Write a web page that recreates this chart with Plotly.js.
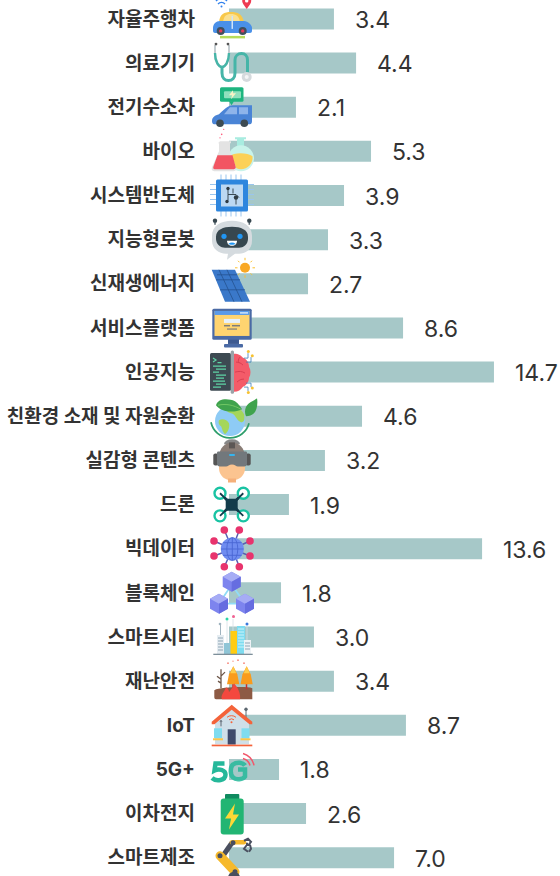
<!DOCTYPE html>
<html>
<head>
<meta charset="utf-8">
<script src="https://cdn.plot.ly/plotly-3.0.1.min.js"></script>
<style>html,body{margin:0;padding:0;background:#fff;overflow:hidden}#chart{width:560px;height:876px}</style>
</head>
<body>
<div id="chart"></div>
<script>
const categories = ["자율주행차","의료기기","전기수소차","바이오","시스템반도체","지능형로봇","신재생에너지","서비스플랫폼","인공지능","친환경 소재 및 자원순환","실감형 콘텐츠","드론","빅데이터","블록체인","스마트시티","재난안전","IoT","5G+","이차전지","스마트제조"];
// Printed value of each row
const printedValues = ["3.4","4.4","2.1","5.3","3.9","3.3","2.7","8.6","14.7","4.6","3.2","1.9","13.6","1.8","3.0","3.4","8.7","1.8","2.6","7.0"];
// Drawn bar length of each row (the bars are not proportional to the printed values)
const barLengths = [5.83,7.06,3.72,7.89,6.39,5.5,4.39,9.67,14.72,7.39,5.33,3.33,14.06,2.89,4.72,5.83,9.83,2.78,4.28,9.17];

// Small pictograms, each on a 60x60 canvas
const icons = [
// car
`<g transform="translate(0 2)"><path d="M25 10a8 8 0 0 0-11 0M23 13a5 5 0 0 0-7 0" fill="none" stroke="#2f80ed" stroke-width="1.4"/><circle cx="19.5" cy="15.5" r="1" fill="#2f80ed"/><path d="M44.7 18c-3-4-4.5-6-4.5-8a4.5 4.5 0 0 1 9 0c0 2-1.500 4-4.500 8z" fill="#ee3b52"/><circle cx="44.700" cy="10" r="1.700" fill="#fff"/><path d="M17 31c1-8 5-10 12-10s11 2 13 10z" fill="#f8c84a"/><path d="M21 31c1-6 3-8 8-8s8 2 9 8z" fill="#fbe08f"/><path d="M11 37c0-4 3-7 7-7h24c4 0 8 4 8 7v3c0 1-1 2-2 2H13c-1 0-2-1-2-2z" fill="#4a90e8"/><rect x="29.500" y="25" width="1.500" height="13" fill="#cfe3fa"/><rect x="18" y="45" width="25" height="2.500" fill="#b5dc5a"/><circle cx="18.700" cy="40" r="4" fill="#40505c"/><circle cx="18.700" cy="40" r="1.700" fill="#e6395a"/><circle cx="40.700" cy="40" r="4" fill="#40505c"/><circle cx="40.700" cy="40" r="1.700" fill="#e6395a"/></g>`,
// stethoscope
`<path d="M13 12v10c0 8 4 12 7 12s7-4 7-12V12" fill="none" stroke="#c4ccd0" stroke-width="2"/><path d="M13 20c0 9 4 14 7 14s7-5 7-14" fill="none" stroke="#46b5a8" stroke-width="2.400"/><path d="M20 34v6c0 5 3 7.500 6.500 7.500s6.500-2.500 6.500-7.500V27c0-4 3-6.500 6.500-6.500s6 2.500 6 6.500v14" fill="none" stroke="#46b5a8" stroke-width="3"/><circle cx="14" cy="11" r="1.400" fill="#555"/><circle cx="26" cy="11" r="1.400" fill="#555"/><circle cx="44.700" cy="44" r="5" fill="#d5dadd"/><circle cx="44.700" cy="44" r="2" fill="#f3f5f6"/>`,
// electric vehicle
`<rect x="18" y="10" width="23.500" height="14.500" rx="1.500" fill="#1eb57f"/><path d="M27 24h5l-2.500 4z" fill="#1eb57f"/><rect x="22" y="14" width="17" height="7" rx="1" fill="#8fe0bd"/><path d="M31 13l-4 5h3l-1 4 5-6h-3z" fill="#f6f3c6"/><path d="M10 44c0-4 3-6 7-7 4-4 9-9 14-9h19v16c0 2-1 3-2 3H12c-1 0-2-1-2-3z" fill="#4a84d6"/><path d="M22 37l6-7h7v7zM37 30h9v7h-9z" fill="#8eb4ea"/><circle cx="18" cy="46" r="3.800" fill="#3e4b52"/><circle cx="42.300" cy="46" r="3.800" fill="#3e4b52"/>`,
// flasks
`<circle cx="19.700" cy="13" r=".8" fill="#f57"/><circle cx="21.700" cy="8" r=".7" fill="#f57"/><circle cx="18" cy="16.500" r=".7" fill="#f57"/><path d="M33 16h11v2h-2v9h-7v-9h-2z" fill="#a8ece0"/><circle cx="39" cy="37" r="13" fill="#c8f3ea"/><path d="M27.500 35c4-4 18-4 23 0 1 7-5 13-11.500 13s-12-6-11.500-13z" fill="#fbd157"/><path d="M18 20h11v2h-1v8l6 16c1 3-1 4-3 4H13c-2 0-4-1-3-4l7-16v-8h-1z" fill="#e3e3e3"/><path d="M15.500 34h15l3 11c1 2-1 3-2 3H13c-2 0-2-2-1.500-3z" fill="#f25562"/>`,
// chip
`<g stroke="#9ac5ee" stroke-width="1"><path d="M19 9v42M24 9v42M29 9v42M34 9v42M39 9v42M8 19h44M8 24h44M8 29h44M8 34h44M8 39h44"/></g><rect x="14" y="14" width="32" height="32" rx="1.500" fill="#2e86de"/><rect x="19" y="19" width="22" height="22" fill="#bcd8f2"/><path d="M26 23v6h8l3 3M26 29v6M31 23v5M34 32v7" fill="none" stroke="#3a4a55" stroke-width="1"/><circle cx="26" cy="23" r="1.700" fill="#2f3b44"/><circle cx="34" cy="32" r="2.200" fill="#2f3b44"/><circle cx="25" cy="36" r="1.700" fill="#2f3b44"/>`,
// robot
`<path d="M13 10v5M47.300 10v5" stroke="#55646d" stroke-width="1.500"/><circle cx="13" cy="11" r="2.200" fill="#37474f"/><circle cx="47.300" cy="11" r="2.200" fill="#37474f"/><path d="M10 26c0-10 9-15 20-15s20 5 20 15v5c0 9-7 13-13 13h-4l-8 6 1-6h-2c-7 0-14-5-14-13z" fill="#d5dbdf"/><path d="M14 27c0-7 7-10 16-10s16 3 16 10v2c0 6-5 9-9 9H23c-4 0-9-3-9-9z" fill="#37474f"/><circle cx="22" cy="26.700" r="2.600" fill="#2196f3"/><circle cx="38" cy="26.700" r="2.600" fill="#2196f3"/><path d="M25 31h10c0 3-2 5-5 5s-5-2-5-5z" fill="#fff"/><path d="M26.500 34c2-1.500 5-1.500 7 0-1 1.500-6 1.500-7 0z" fill="#2196f3"/>`,
// solar panel
`<path d="M9.700 16H33l15 32H23z" fill="#3a78c9"/><path d="M17 16l15 32M25 16l15 32M14 26h24M18 36h25M15 21h20" fill="none" stroke="#24528f" stroke-width=".8"/><circle cx="43" cy="14" r="5" fill="#f9a825"/><path d="M43 4v2.500M43 21.500V24M33 14h2.500M50.500 14H53M36 7l1.500 1.500M50 7l-1.500 1.500M36 21l1.500-1.500M50 21l-1.500-1.500" stroke="#fbc02d" stroke-width="1"/>`,
// monitor
`<rect x="26" y="41" width="11" height="5" fill="#3e5a90"/><rect x="22" y="46" width="19" height="3.500" rx="1" fill="#4a6aa5"/><rect x="10.300" y="10.700" width="39.400" height="31" rx="1.500" fill="#4a6aa5"/><rect x="12.500" y="13" width="35" height="25" fill="#ffd470"/><rect x="12.500" y="13" width="35" height="4" fill="#5b9bea"/><rect x="38" y="14.200" width="8" height="1.500" fill="#cfe3fa"/><rect x="22" y="21" width="16" height="4" fill="#e7f1fb"/><rect x="22" y="27" width="6" height="1.500" fill="#7d7d7d"/><rect x="30" y="27" width="8" height="1.500" fill="#7d7d7d"/><rect x="25" y="30.500" width="10" height="1.200" fill="#7d7d7d"/>`,
// AI
`<rect x="8" y="11" width="21" height="37.700" rx="1.500" fill="#3d4a52"/><path d="M11 16l3 2-3 2" fill="none" stroke="#5fd3a5" stroke-width="1.200"/><path d="M15.500 20.500h4M11 24h13M14 27h10M11 30h6M14 33h10M14 36h8M11 39h12M14 42h10M11 45h8" stroke="#5fd3a5" stroke-width="1.100"/><rect x="28.700" y="8.300" width="3.300" height="43.400" rx="1.500" fill="#9aa3a8"/><path d="M32 11.700c5 0 7 2 9 4 4 1 6 6 6 9 2 3 2 8 0 11 0 4-3 8-6 9-2 3-5 5-9 5z" fill="#f45b69"/><path d="M34 20c3 0 5 1 7 3M33 30c4-1 7-1 10 1M35 40c2-2 4-3 7-3M38 15c-2 2-2 4-1 6" fill="none" stroke="#d93f52" stroke-width="1"/><path d="M42 16h4v-5M44 20h5v-5M44 41h5v4M42 45h4v4" fill="none" stroke="#3d7fb8" stroke-width=".8"/><g fill="#f7c231"><circle cx="46.300" cy="9.300" r="1.500"/><circle cx="50.300" cy="13.700" r="1.500"/><circle cx="50.300" cy="46" r="1.500"/><circle cx="46.300" cy="50.300" r="1.500"/></g>`,
// globe
`<path d="M22 58a8 5 0 0 1 16 0z" fill="#888"/><path d="M9 36a19.500 19.500 0 0 0 38 1" fill="none" stroke="#2e9e6b" stroke-width="1.700"/><circle cx="28" cy="34.800" r="15" fill="#8ecbf5"/><path d="M25 20c5-2 13 0 17 8 1 6 0 8-3 8-5-2-5-8-10-9-4-1-6-4-4-7z" fill="#a5d65a"/><path d="M17 34c3-2 8-1 10 3 1 4-1 9-4 11-3-3-3-7-4-8-2-1-3-4-2-6z" fill="#a5d65a"/><path d="M14 19c2-7 12-7 19-4 3 2 6 6 7 8-8 4-21 3-26-4z" fill="#3fa34d"/><path d="M16 19c8-2 16 0 23 4" stroke="#7ccf6a" stroke-width=".8" fill="none"/><path d="M44 30c-2-4-1-10 3-13 3-2 7-4 8-5 1 5 0 12-3 15-2 2-5 3-8 3z" fill="#3fa34d"/>`,
// VR
`<path d="M17 28c0-11 6-16 13-16s13 5 13 16z" fill="#8a7d76"/><rect x="27" y="12" width="6" height="6" fill="#5c5755"/><path d="M17 32h26v6c0 7-6 12-13 12s-13-5-13-12z" fill="#fbc490"/><path d="M26 48h8v4h-8z" fill="#f5b07a"/><rect x="11.300" y="23" width="5" height="12" rx="2" fill="#555"/><rect x="43.700" y="23" width="5" height="12" rx="2" fill="#555"/><path d="M16 21h28c1 0 1 1 1 2v10c0 2-1 3-3 3h-6c-2 0-3-2-6-2s-4 2-6 2h-6c-2 0-3-1-3-3V23c0-1 0-2 1-2z" fill="#72787c"/><rect x="27" y="23.500" width="6" height="2" rx="1" fill="#36b4ee"/>`,
// drone
`<path d="M18 18.700L41.300 41.300M41.300 18.700L18 41.300" stroke="#123c4b" stroke-width="2.600"/><g fill="#fff" stroke="#19c3a3" stroke-width="2.400"><circle cx="18" cy="18.700" r="5.500"/><circle cx="41.300" cy="18.700" r="5.500"/><circle cx="18" cy="41.300" r="5.500"/><circle cx="41.300" cy="41.300" r="5.500"/></g><path d="M18 18.700L41.300 41.300M41.300 18.700L18 41.300" stroke="#123c4b" stroke-width="1.800"/><rect x="23.700" y="24.300" width="12" height="12" rx="1" fill="#123c4b"/>`,
// big data
`<g stroke="#5a5fb0" stroke-width="1.500"><path d="M22.300 11.300L30.300 30.300M37.300 11.300L30.300 30.300M48 22.300L30.300 30.300M48 37.300L30.300 30.300M37.300 48L30.300 30.300M22.300 48L30.300 30.300M12 37.300L30.300 30.300M12 22.300L30.300 30.300"/></g><circle cx="30.300" cy="30.300" r="11.500" fill="#6f8cf0"/><path d="M19 30.300h22.600M30.300 19v22.600M21 24h18.600M21 36.600h18.600" stroke="#4a66d4" stroke-width=".9"/><ellipse cx="30.300" cy="30.300" rx="5.500" ry="11.500" fill="none" stroke="#4a66d4" stroke-width=".9"/><g fill="#e8336d"><circle cx="22.300" cy="11.300" r="3.800"/><circle cx="37.300" cy="11.300" r="3.800"/><circle cx="48" cy="22.300" r="3.800"/><circle cx="48" cy="37.300" r="3.800"/><circle cx="37.300" cy="48" r="3.800"/><circle cx="22.300" cy="48" r="3.800"/><circle cx="12" cy="37.300" r="3.800"/><circle cx="12" cy="22.300" r="3.800"/></g>`,
// blockchain
`<path d="M29.700 22L17 40.700M29.700 22L43 40.700M17 40.700H43" stroke="#8fdcf7" stroke-width="1.800"/><path d="M29.700 9l9 5v10l-9 5-9-5V14z" fill="#7d84ee"/><path d="M29.700 9l9 5-9 5-9-5z" fill="#a6acf5"/><path d="M29.700 19l9-5v10l-9 5z" fill="#666de0"/><path d="M17 31l9 5v10l-9 5-9-5V36z" fill="#7d84ee"/><path d="M17 31l9 5-9 5-9-5z" fill="#a6acf5"/><path d="M17 41l9-5v10l-9 5z" fill="#666de0"/><path d="M43 31l9 5v10l-9 5-9-5V36z" fill="#7d84ee"/><path d="M43 31l9 5-9 5-9-5z" fill="#a6acf5"/><path d="M43 41l9-5v10l-9 5z" fill="#666de0"/>`,
// smart city
`<rect x="15" y="28" width="7" height="19" fill="#e6edf2"/><path d="M16 31h5M16 34h5M16 37h5M16 40h5M16 43h5" stroke="#8fa6b5" stroke-width="1"/><rect x="22" y="36" width="8" height="11" fill="#8fc5d6"/><rect x="28.500" y="24" width="7" height="23" fill="#ffcc10"/><rect x="35" y="19" width="8" height="28" fill="#7fdcf0"/><path d="M36 22h6M36 25h6M36 28h6M36 31h6M36 34h6M36 37h6M36 40h6" stroke="#cdf3fa" stroke-width="1"/><rect x="42" y="33" width="7" height="14" fill="#eef2f5"/><path d="M43 36h5M43 39h5M43 42h5" stroke="#8fa6b5" stroke-width="1"/><rect x="11.300" y="46.700" width="39.400" height="1.300" fill="#7d8f9a"/><circle cx="18" cy="17" r="1.300" fill="#9fb3bf"/><path d="M18.500 18v10" stroke="#9fb3bf"/><circle cx="25" cy="12" r="1.500" fill="#2dd4a7"/><circle cx="31.500" cy="9.500" r="1.500" fill="#f06292"/><circle cx="45" cy="17" r="1.500" fill="#3a78dc"/><path d="M31 12v12M25 14v22M45 19v14" stroke="#d5dfe6" stroke-width=".8"/>`,
// disaster
`<path d="M19 37V18M19 28l-4-3M19 25l4-4M19 32l-3-2" stroke="#6d5648" stroke-width="1.300" fill="none"/><path d="M12.300 39c6-3 32-4 38-2v11H14c-1 0-1.700-1-1.700-2z" fill="#8d5a44"/><path d="M31 30v8M44.500 30v8" stroke="#c9302c" stroke-width="1.500"/><path d="M31.300 15l4 8 2 10H25l2-10z" fill="#f99b1c"/><path d="M31.300 15l3 7h-6z" fill="#fdcb4a"/><path d="M44.700 15l4 8 2 10H38.500l2-10z" fill="#f99b1c"/><path d="M44.700 15l3 7h-6z" fill="#fdcb4a"/><path d="M20 48c-2-4 3-8 4-12 2 1 3 3 3 5 2-3 5-6 5-9 4 4 7 11 6 16z" fill="#f4483e"/><g fill="#f7867a"><circle cx="26" cy="12" r=".9"/><circle cx="36" cy="9" r=".9"/><circle cx="42" cy="12" r=".9"/><circle cx="31" cy="10" r=".7"/></g>`,
// IoT
`<path d="M44 13v12" stroke="#5c6770" stroke-width="1"/><circle cx="44" cy="14" r="1.700" fill="#5c6770"/><path d="M13 27L29.700 14 47 27V49H13z" fill="#cfdfe8"/><path d="M9.700 26.500L29.700 9.500 50.300 26.500 50.300 29 47.500 29 29.700 14.500 12.500 29 9.700 29z" fill="#f4633a"/><path d="M25 22a7 7 0 0 1 9 0M27 24.500a4 4 0 0 1 5 0" fill="none" stroke="#f4633a" stroke-width="1"/><circle cx="29.500" cy="27" r="1" fill="#f4633a"/><rect x="25.700" y="34" width="8" height="15.300" fill="#3f4a6b"/><rect x="12" y="33" width="8" height="10" fill="#7fdcf0"/><rect x="39.500" y="33" width="8" height="10" fill="#7fdcf0"/><rect x="11" y="43" width="10" height="2" fill="#fbc64a"/><rect x="38.500" y="43" width="10" height="2" fill="#fbc64a"/><rect x="9.700" y="49.300" width="40.600" height="1.700" fill="#f4633a"/><path d="M19 31v-4" stroke="#5c6770"/><circle cx="19" cy="26" r="1.200" fill="#5c6770" opacity=".8"/>`,
// 5G
`<path d="M41 19a10 10 0 0 1 7 7M41 14a16 16 0 0 1 11 12" fill="none" stroke="#f2566a" stroke-width="1.500"/><path d="M22.500 24H13.500L12.500 31c5-2.500 11 0 11 4 0 6-9 7.500-13.500 3.500" fill="none" stroke="#25b89a" stroke-width="4.500"/><path d="M43 26c-2-3-8-4-12-1-3 3-3 10 0 13 3 3 10 2 12-1v-7h-7" fill="none" stroke="#25b89a" stroke-opacity=".85" stroke-width="4.500"/>`,
// battery
`<rect x="23" y="10.300" width="14.300" height="6" rx="1" fill="#0f8a5f"/><rect x="18.700" y="15" width="23" height="36" rx="3" fill="#22b573"/><path d="M33 20L23 35h6l-2 11 10-15h-6z" fill="#fdd835"/>`,
// robot arm
`<path d="M21 28L30 15" stroke="#4a4f5f" stroke-width="5"/><path d="M30 14.500H42" stroke="#f6b92b" stroke-width="4.500" stroke-linecap="round"/><path d="M18 28L33 44" stroke="#f6b92b" stroke-width="9" stroke-linecap="round"/><path d="M26 50a6 6 0 0 1 12 0z" fill="#4a4f5f"/><circle cx="18" cy="28" r="2.500" fill="#4a4f5f"/><circle cx="31" cy="15" r="2.500" fill="#4a4f5f"/><circle cx="33" cy="44" r="2.500" fill="#4a4f5f"/><path d="M42 13l4-2 3 3-3 4M45 15v2l-3 4 4 3M48 17l1 4-2 3" fill="none" stroke="#4a4f5f" stroke-width="2"/>`
];
const iconSrc = s => "data:image/svg+xml;charset=utf-8," + encodeURIComponent(
  `<svg xmlns="http://www.w3.org/2000/svg" width="60" height="60" viewBox="0 0 60 60">${s}</svg>`);

const W = 560, H = 876, L = 229, unit = 18;
const rowTop = 18.9, rowStep = 44.15;
const rowY = i => rowTop + rowStep * i;

const trace = {
  type: "bar", orientation: "h",
  y: categories, x: barLengths,
  marker: {color: "#a6c8c8", line: {width: 0}},
  width: 0.476, hoverinfo: "skip"
};

const layout = {
  width: W, height: H,
  margin: {l: L, r: 0, t: 0, b: 0, pad: 0},
  paper_bgcolor: "#fff", plot_bgcolor: "#fff",
  showlegend: false,
  bargap: 0.524,
  xaxis: {range: [0, (W - L) / unit], visible: false, fixedrange: true},
  yaxis: {
    type: "category", categoryorder: "array", categoryarray: categories,
    range: [(H - rowTop) / rowStep, -rowTop / rowStep],
    showgrid: false, zeroline: false, showline: false, ticks: "",
    ticklabelstandoff: 33, automargin: false, fixedrange: true,
    tickfont: {family: 'Inter, "Noto Sans CJK KR", sans-serif', size: 19, color: "#333333", weight: 700}
  },
  annotations: printedValues.map((v, i) => ({
    x: barLengths[i], y: i, xref: "x", yref: "y",
    text: v, showarrow: false, xanchor: "left", yanchor: "middle",
    xshift: 19, yshift: -1,
    font: {family: 'Inter, "Noto Sans", sans-serif', size: 23, color: "#333333"}
  })),
  images: icons.map((s, i) => ({
    source: iconSrc(s),
    xref: "paper", yref: "paper",
    x: (202 - L) / (W - L), y: 1 - (rowY(i) - 30) / H,
    sizex: 60 / (W - L), sizey: 60 / H,
    xanchor: "left", yanchor: "top", sizing: "contain", layer: "above"
  }))
};

Plotly.newPlot("chart", [trace], layout, {displayModeBar: false, staticPlot: true});
</script>
</body>
</html>
